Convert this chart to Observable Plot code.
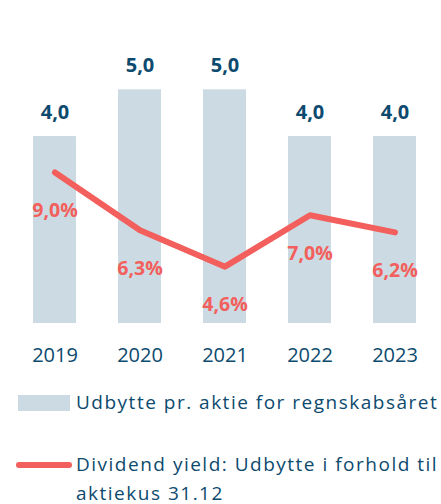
<!DOCTYPE html>
<html>
<head>
<meta charset="utf-8">
<script src="https://cdn.jsdelivr.net/npm/d3@7"></script>
<script src="https://cdn.jsdelivr.net/npm/@observablehq/plot@0.6"></script>
<style>
  html, body { margin: 0; padding: 0; background: #fff; overflow: hidden; }
  body { width: 441px; height: 504px; font-family: "Open Sans", sans-serif; color: #0c4a6e; }
  #chart svg { display: block; }
  .legend { font-size: 19px; letter-spacing: 1.5px; color: #0c4a6e; }
  .item1 { display: flex; align-items: center; height: 31px; margin-top: 12px; }
  .sw-bar { width: 52px; height: 16px; background: #ccdbe3; margin-left: 18px; margin-right: 6px; flex: none; }
  .item2 { display: flex; align-items: flex-start; margin-top: 32px; }
  .sw-line { width: 56px; height: 6px; border-radius: 3px; background: #f25f5c; margin-left: 16px; margin-right: 4px; margin-top: 11.5px; flex: none; }
  .txt { line-height: 29px; white-space: nowrap; }
</style>
</head>
<body>
<div id="chart"></div>
<div class="legend">
  <div class="item1"><div class="sw-bar"></div><div class="txt">Udbytte pr. aktie for regnskabsåret</div></div>
  <div class="item2"><div class="sw-line"></div><div class="txt">Dividend yield: Udbytte i forhold til<br>aktiekus 31.12</div></div>
</div>
<script>
const years = ["2019", "2020", "2021", "2022", "2023"];
const dividend = [4.0, 5.0, 5.0, 4.0, 4.0];
const yieldPct = [9.0, 6.3, 4.6, 7.0, 6.2];

const navy = "#0c4a6e";
const coral = "#f25f5c";
const barColor = "#ccdbe3";

const fmt = v => v.toFixed(1).replace(".", ",");

// Secondary (yield) scale expressed in the bar (dividend) axis units
const yBarPx = d3.scaleLinear([0, 5], [323, 89.3]);
const yYieldPx = d3.scaleLinear([0, 10], [364.6, 150.6]);
const toBarUnits = v => yBarPx.invert(yYieldPx(v));

const data = years.map((year, i) => ({
  year,
  dividend: dividend[i],
  yieldPct: yieldPct[i],
  yieldY: toBarUnits(yieldPct[i])
}));

const chart = Plot.plot({
  width: 441,
  height: 375,
  marginLeft: 11,
  marginRight: 4,
  marginTop: 89.3,
  marginBottom: 52,
  style: { fontFamily: "Open Sans, sans-serif", background: "#fff", overflow: "visible" },
  x: { domain: years, paddingInner: 0.5, paddingOuter: 0.25, label: null },
  y: { domain: [0, 5], range: [323, 89.3], axis: null },
  marks: [
    Plot.barY(data, { x: "year", y: "dividend", fill: barColor }),
    Plot.text(data, { x: "year", y: "dividend", text: d => fmt(d.dividend), dy: -24, fill: navy, fontSize: 20, fontWeight: "bold", letterSpacing: 0.5 }),
    Plot.line(data, { x: "year", y: "yieldY", stroke: coral, strokeWidth: 6, strokeLinecap: "round", strokeLinejoin: "round" }),
    Plot.text(data, { x: "year", y: "yieldY", text: d => fmt(d.yieldPct) + "%", dy: 38, fill: coral, fontSize: 19.5, fontWeight: "bold" }),
    Plot.axisX({ tickSize: 0, tickPadding: 24, fontSize: 20, color: navy, label: null })
  ]
});
document.getElementById("chart").appendChild(chart);
</script>
</body>
</html>
